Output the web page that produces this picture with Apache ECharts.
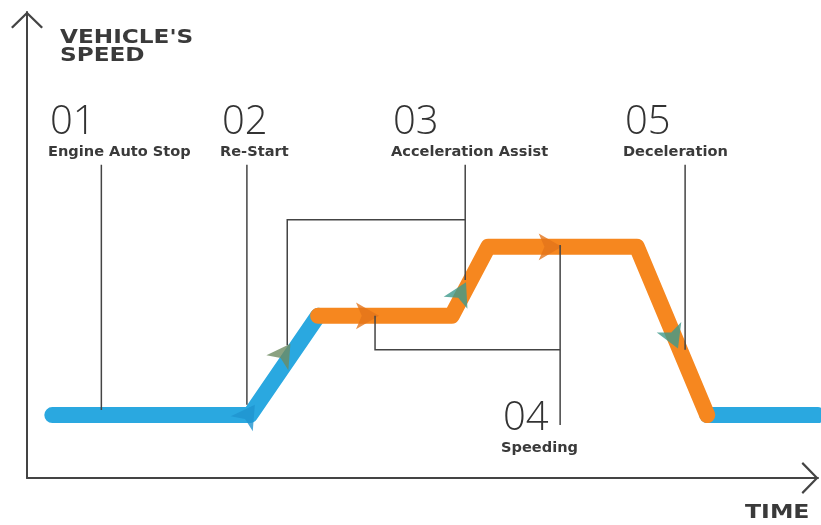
<!DOCTYPE html>
<html>
<head>
<meta charset="utf-8">
<script src="https://cdn.jsdelivr.net/npm/echarts@6/dist/echarts.min.js"></script>
<style>html,body{margin:0;padding:0;background:#fff;}#c{width:821px;height:525px;}</style>
</head>
<body>
<div id="c"></div>
<script>
// ---- data (time 0-100, speed 0-100, arbitrary units) ----
const speedBlue1 = [[3.2,13.5],[28.2,13.5],[36.8,34.8]];
const speedOrange = [[36.8,34.8],[53.7,34.8],[58.3,49.6],[77.1,49.6],[86.0,13.5]];
const speedBlue2 = [[86.0,13.5],[100,13.5]];

const arrowPts = [[28.8,15.7],[33.3,28.8],[44.5,34.8],[55.5,42.0],[67.6,49.6],[82.3,27.8]];
const arrowRot = [-34.5,-34.5,-90,-27,-90,-157];
const arrowColors = ['#1f93cf','#6e8b62','#e3741a','#3f9a8c','#e3741a','#3f9a8c'];

const leaderLines = [
  [[9.4,67.2],[9.4,14.6]],
  [[27.8,67.2],[27.8,15.7]],
  [[55.4,67.2],[55.4,42.5]],
  [[55.4,55.4],[32.9,55.4],[32.9,28.5]],
  [[67.4,11.4],[67.4,50.0]],
  [[67.4,27.5],[44.0,27.5],[44.0,34.8]],
  [[83.2,67.2],[83.2,27.5]]
];

const stageNums = ['01','02','03','04','05'];
const stageNames = ['Engine Auto Stop','Re-Start','Acceleration Assist','Speeding','Deceleration'];
const stageLeft = [50,222,393,503,625];
const stageTop = [103,103,103,399,103];

const axisTitleY = "VEHICLE'S\nSPEED";
const axisTitleX = 'TIME';

const chart = echarts.init(document.getElementById('c'));
const chevron = 'path://M0,15.5 L16,0 L32,15.5 L30.3,17 L16,3 L1.7,17 Z';
const axisCommon = {
  type: 'value', min: 0, max: 100,
  axisLabel: {show: false}, axisTick: {show: false}, splitLine: {show: false},
  axisLine: {show: true, lineStyle: {color: '#444', width: 2},
    symbol: ['none', chevron], symbolSize: [32, 17], symbolOffset: [0, -8]}
};

const graphics = [];
graphics.push({type: 'text', left: 60, top: 29, scaleX: 1.22, style: {text: axisTitleY, font: 'bold 19px "DejaVu Sans"', fill: '#3a3a3a', lineHeight: 18}});
graphics.push({type: 'text', left: 745, top: 503, scaleX: 1.18, style: {text: axisTitleX, font: 'bold 20px "DejaVu Sans"', fill: '#3a3a3a'}});
stageNums.forEach((n, i) => {
  graphics.push({type: 'text', left: stageLeft[i], top: stageTop[i], style: {text: n, font: '300 40px "Open Sans"', fill: '#333'}});
  graphics.push({type: 'text', left: stageLeft[i] - 2, top: stageTop[i] + 42, scaleX: 1.08, style: {text: stageNames[i], font: 'bold 13.5px "DejaVu Sans"', fill: '#3a3a3a'}});
});

const speedLine = (data, color) => ({
  type: 'line', data: data, showSymbol: false, symbol: 'none', z: 2,
  lineStyle: {color: color, width: 16, cap: 'round', join: 'round'}
});

chart.setOption({
  animation: false,
  grid: {left: 27, right: 3, top: 12, bottom: 47},
  xAxis: axisCommon,
  yAxis: axisCommon,
  graphic: graphics,
  series: [
    speedLine(speedBlue1, '#2aa8e0'),
    speedLine(speedBlue2, '#2aa8e0'),
    speedLine(speedOrange, '#f6871f'),
    {
      type: 'scatter', z: 3, symbol: 'arrow', symbolSize: [20, 23],
      data: arrowPts.map((p, i) => ({value: p, symbolRotate: arrowRot[i], itemStyle: {color: arrowColors[i]}}))
    },
    {
      type: 'lines', coordinateSystem: 'cartesian2d', polyline: true, z: 4,
      lineStyle: {color: '#444', width: 1.5, opacity: 1},
      data: leaderLines.map(c => ({coords: c}))
    }
  ]
});
</script>
</body>
</html>
